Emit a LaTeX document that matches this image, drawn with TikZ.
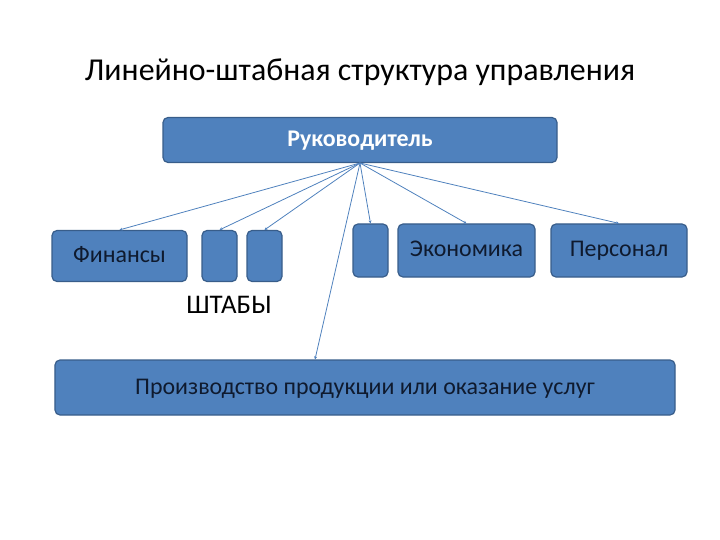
\documentclass[tikz,border=0pt]{standalone}
\usepackage{fontspec}
\setmainfont{Carlito}
\usepackage{xcolor}
\usetikzlibrary{positioning,arrows.meta,calc}
\definecolor{boxblue}{HTML}{4F81BD}
\definecolor{boxedge}{HTML}{385D8A}
\definecolor{textdark}{HTML}{0F1A2E}

\begin{document}
\begin{tikzpicture}[
  x=1bp, y=-1bp,
  every node/.style={font=\fontsize{24}{26}\selectfont},
  unit/.style={draw=boxedge, fill=boxblue, line width=1.2pt, rounded corners=5pt,
               inner sep=0pt, text=textdark, text height=14bp, text depth=1bp},
  link/.style={-{Stealth[length=3pt,width=3pt]}, boxblue, line width=0.8pt},
]
  \useasboundingbox (0,0) rectangle (720,540);

  % Title
  \node[font=\fontsize{32}{34}\selectfont] (title) at (360,72)
    {Линейно-штабная структура управления};

  % Head
  \node[unit, minimum width=394bp, minimum height=45bp, text=white,
        font=\fontsize{24}{26}\selectfont\bfseries] (head) at (360,140) {Руководитель};
  \coordinate (apex) at (360,163);

  % Departments row
  \node[unit, minimum width=135bp, minimum height=51bp] (fin) at (119.5,256) {Финансы};
  \node[unit, minimum width=35bp, minimum height=51bp] (staffA) at (219.5,256) {};
  \node[unit, minimum width=35bp, minimum height=51bp] (staffB) at (264.5,256) {};
  \node[unit, minimum width=35bp, minimum height=53bp] (staffC) at (370.5,250.5) {};
  \node[unit, minimum width=137bp, minimum height=53bp] (eco) at (466.5,250.5) {Экономика};
  \node[unit, minimum width=136bp, minimum height=53bp] (pers) at (619,250.5) {Персонал};

  \node[font=\fontsize{27}{29}\selectfont] (staffs) at (229,305) {ШТАБЫ};

  % Production
  \node[unit, minimum width=620bp, minimum height=55bp] (prod) at (365,387.5)
    {Производство продукции или оказание услуг};

  % Links from head
  \draw[link] (apex) -- (fin.north);
  \draw[link] (apex) -- (staffA.north);
  \draw[link] (apex) -- (staffB.north);
  \draw[link] (apex) -- (staffC.north);
  \draw[link] (apex) -- (eco.north);
  \draw[link] (apex) -- (pers.north);
  \draw[link] (apex) -- (prod.north -| 315,0);
\end{tikzpicture}
\end{document}
